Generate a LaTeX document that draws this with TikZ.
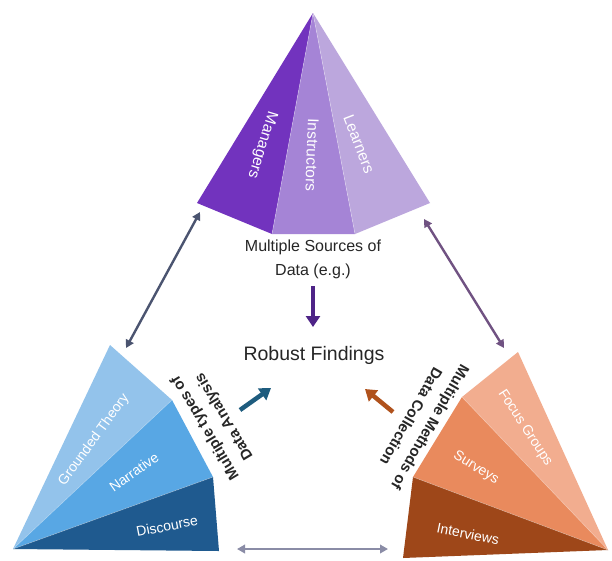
\documentclass[tikz,border=0pt]{standalone}
\usepackage{fontspec}
\setmainfont{Liberation Sans}
\usetikzlibrary{arrows.meta}
\definecolor{mgr}{HTML}{7233BE}
\definecolor{ins}{HTML}{A584D6}
\definecolor{lrn}{HTML}{BCA7DD}
\definecolor{gt}{HTML}{93C3EB}
\definecolor{nar}{HTML}{58A7E4}
\definecolor{dis}{HTML}{1F5A8F}
\definecolor{fg}{HTML}{F2AD8F}
\definecolor{sur}{HTML}{E98A5D}
\definecolor{intv}{HTML}{9E4719}
\definecolor{arrpur}{HTML}{4E2487}
\definecolor{arrblu}{HTML}{1E5C7E}
\definecolor{arrora}{HTML}{B0521C}
\definecolor{dblL}{HTML}{4B5470}
\definecolor{dblR}{HTML}{705282}
\definecolor{dblB}{HTML}{8A8CA6}
\begin{document}
\begin{tikzpicture}[x=1pt,y=-1pt,
  face/.style={draw=white,draw opacity=0.35,line width=0.6pt,line join=round},
  seglabel/.style={text=white,font=\fontsize{14}{16}\selectfont,inner sep=0pt},
  pyrlabel/.style={text=white,font=\fontsize{15.5}{18}\selectfont,inner sep=0pt},
  sidelabel/.style={text=black!85,font=\bfseries\fontsize{15}{22}\selectfont,align=center,inner sep=0pt},
  midlabel/.style={text=black!85,font=\fontsize{16}{24}\selectfont,align=center,inner sep=0pt},
  bigarrow/.style={line width=4.5pt,-{Triangle[length=11pt,width=14pt]}},
  dblarrow/.style={line width=2.4pt,{Triangle[length=8pt,width=8.5pt]}-{Triangle[length=8pt,width=8.5pt]}}
]
\useasboundingbox[fill=white] (0,0) rectangle (612,560);

% pyramid (sources)
\coordinate (A) at (313,13);
\coordinate (L) at (197,203);
\coordinate (FL) at (272,234);
\coordinate (FR) at (355,234);
\coordinate (R) at (430,203);
\fill[mgr] (A) -- (L) -- (FL) -- cycle;
\fill[ins] (A) -- (FL) -- (FR) -- cycle;
\fill[lrn] (A) -- (FR) -- (R) -- cycle;
\draw[face] (A) -- (FL) (A) -- (FR);
\node[pyrlabel,rotate=-107] (mgrt) at (262,145) {Managers};
\node[pyrlabel,rotate=-92] (inst) at (312,155) {Instructors};
\node[pyrlabel,rotate=-69] (lrnt) at (359,144) {Learners};

% left fan (analysis)
\coordinate (P) at (13,549);
\coordinate (T) at (110,345);
\coordinate (B1) at (172,400);
\coordinate (B2) at (213,477);
\coordinate (B3) at (219,551);
\fill[gt] (P) -- (T) -- (B1) -- cycle;
\fill[nar] (P) -- (B1) -- (B2) -- cycle;
\fill[dis] (P) -- (B2) -- (B3) -- cycle;
\draw[face] (P) -- (B1) (P) -- (B2);
\node[seglabel,rotate=54] (gtt) at (94,440) {Grounded Theory};
\node[seglabel,rotate=35.5] (nart) at (134,472) {Narrative};
\node[seglabel,rotate=11] (dist) at (167,526) {Discourse};

% right fan (collection)
\coordinate (Q) at (608,550);
\coordinate (U) at (518,352);
\coordinate (C1) at (462,397);
\coordinate (C2) at (413,477);
\coordinate (C3) at (403,558);
\fill[fg] (Q) -- (U) -- (C1) -- cycle;
\fill[sur] (Q) -- (C1) -- (C2) -- cycle;
\fill[intv] (Q) -- (C2) -- (C3) -- cycle;
\draw[face] (Q) -- (C1) (Q) -- (C2);
\node[seglabel,rotate=-57] (fgt) at (525,428) {Focus Groups};
\node[seglabel,rotate=-32] (surt) at (476,468) {Surveys};
\node[seglabel,rotate=-11.6] (intt) at (468,534) {Interviews};

% texts
\node[midlabel] (src) at (313,259) {Multiple Sources of\\Data (e.g.)};
\node[midlabel,font=\fontsize{19.5}{22}\selectfont] (rob) at (314,355) {Robust Findings};
\node[sidelabel,rotate=121] (ana) at (215,422) {Multiple types of\\Data Analysis};
\node[sidelabel,rotate=-120] (col) at (421,422) {Multiple Methods of\\Data Collection};

% central arrows
\coordinate (pa1) at (313,286);
\coordinate (pa2) at (313,327);
\coordinate (ba1) at (240,410);
\coordinate (ba2) at (271,388);
\coordinate (oa1) at (393,412);
\coordinate (oa2) at (365,389);
\draw[bigarrow,arrpur] (pa1) -- (pa2);
\draw[bigarrow,arrblu] (ba1) -- (ba2);
\draw[bigarrow,arrora] (oa1) -- (oa2);

% double arrows
\coordinate (dl1) at (200,212);
\coordinate (dl2) at (126,348);
\coordinate (dr1) at (424,219);
\coordinate (dr2) at (504,348);
\coordinate (db1) at (237,549);
\coordinate (db2) at (388,549);
\draw[dblarrow,dblL] (dl1) -- (dl2);
\draw[dblarrow,dblR] (dr1) -- (dr2);
\draw[dblarrow,dblB] (db1) -- (db2);
\end{tikzpicture}
\end{document}
